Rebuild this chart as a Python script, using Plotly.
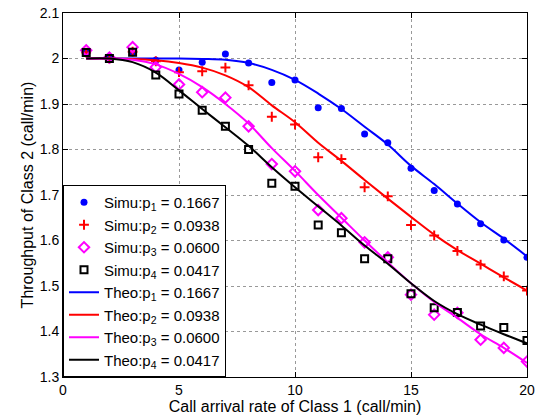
import plotly.graph_objects as go

x = list(range(1, 21))

# Simulation points
simu_p1 = [2.013, 2.000, 2.013, 1.996, 1.975, 1.992, 2.010, 1.990, 1.947, 1.953,
           1.892, 1.890, 1.834, 1.815, 1.759, 1.710, 1.680, 1.637, 1.601, 1.563]
simu_p2 = [2.013, 2.000, 2.015, 1.994, 1.970, 1.972, 1.980, 1.941, 1.872, 1.855,
           1.783, 1.779, 1.717, 1.697, 1.634, 1.611, 1.577, 1.547, 1.521, 1.490]
simu_p3 = [2.018, 2.002, 2.025, 1.981, 1.943, 1.926, 1.914, 1.851, 1.768, 1.752,
           1.667, 1.649, 1.596, 1.563, 1.481, 1.437, 1.441, 1.382, 1.364, 1.334]
simu_p4 = [2.013, 2.000, 2.014, 1.964, 1.922, 1.886, 1.851, 1.800, 1.726, 1.719,
           1.634, 1.617, 1.560, 1.560, 1.483, 1.452, 1.442, 1.412, 1.409, 1.380]

# Theoretical curves
theo_p1 = [2.000, 2.000, 2.000, 2.000, 2.000, 1.999, 1.997, 1.990, 1.975, 1.953,
           1.923, 1.889, 1.850, 1.811, 1.764, 1.724, 1.681, 1.640, 1.604, 1.565]
theo_p2 = [2.000, 2.000, 1.999, 1.996, 1.990, 1.980, 1.963, 1.937, 1.897, 1.860,
           1.815, 1.775, 1.733, 1.692, 1.652, 1.613, 1.579, 1.549, 1.519, 1.490]
theo_p3 = [2.000, 2.000, 1.997, 1.987, 1.966, 1.937, 1.900, 1.857, 1.803, 1.753,
           1.700, 1.650, 1.600, 1.552, 1.506, 1.465, 1.430, 1.394, 1.364, 1.331]
theo_p4 = [2.000, 2.000, 1.992, 1.969, 1.930, 1.889, 1.849, 1.808, 1.761, 1.717,
           1.675, 1.633, 1.589, 1.549, 1.506, 1.467, 1.438, 1.415, 1.394, 1.374]

labels = ["0.1667", "0.0938", "0.0600", "0.0417"]
colors = ["#0000ff", "#ff0000", "#ff00ff", "#000000"]

fig = go.Figure()

marker_styles = [
    dict(symbol="circle", size=7, color=colors[0], line=dict(width=0)),
    dict(symbol="cross-thin", size=7, color=colors[1], line=dict(width=2, color=colors[1])),
    dict(symbol="diamond-open", size=8, color=colors[2], line=dict(width=2, color=colors[2])),
    dict(symbol="square-open", size=7, color=colors[3], line=dict(width=2, color=colors[3])),
]
simu = [simu_p1, simu_p2, simu_p3, simu_p4]
theo = [theo_p1, theo_p2, theo_p3, theo_p4]

for i in range(4):
    fig.add_trace(go.Scatter(
        x=x, y=simu[i], mode="markers", marker=marker_styles[i],
        name=f"Simu:p<sub>{i+1}</sub> = {labels[i]}"))
for i in range(4):
    fig.add_trace(go.Scatter(
        x=x, y=theo[i], mode="lines", line=dict(color=colors[i], width=2, shape="spline"),
        name=f"Theo:p<sub>{i+1}</sub> = {labels[i]}"))

font = "Liberation Sans, Arial, Helvetica, sans-serif"
axis_common = dict(
    showline=True, linecolor="black", linewidth=1, mirror="ticks",
    ticks="inside", ticklen=5, tickcolor="black", automargin=False,
    showgrid=True, gridcolor="#999999", griddash="dot", gridwidth=1,
    zeroline=False, tickfont=dict(size=14, color="black", family=font),
)
fig.update_layout(
    width=541, height=419,
    margin=dict(l=63, r=14, t=13, b=42),
    paper_bgcolor="white", plot_bgcolor="white",
    font=dict(family=font, color="black"),
    showlegend=True,
    legend=dict(x=0, y=0, xanchor="left", yanchor="bottom",
                bgcolor="white", bordercolor="black", borderwidth=1,
                font=dict(size=15, family=font, color="black"),
                tracegroupgap=0, itemwidth=30),
    xaxis=dict(range=[0, 20], tickvals=[0, 5, 10, 15, 20],
               title=dict(text="Call arrival rate of Class 1 (call/min)", font=dict(size=16), standoff=0),
               **axis_common),
    yaxis=dict(range=[1.3, 2.1], dtick=0.1, tick0=1.3,
               title=dict(text="Throughput of Class 2 (call/min)", font=dict(size=16), standoff=2),
               **axis_common),
)

fig.write_html("out.html", config={"displayModeBar": False},
               post_script="document.body.style.margin='0';document.body.style.overflow='hidden';")
